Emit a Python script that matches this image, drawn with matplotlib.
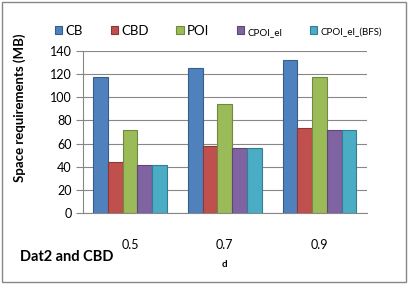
import matplotlib.pyplot as plt
import numpy as np
from matplotlib.patches import Rectangle

plt.rcParams['font.family'] = ['Lato', 'DejaVu Sans']

Categories = ['0.5', '0.7', '0.9']
SeriesNames = ['CB', 'CBD', 'POI', 'CPOI_el', 'CPOI_el_(BFS)']
CB = [118, 125, 132]
CBD = [44, 58, 73.5]
POI = [72, 94, 117.5]
CPOI_el = [41.6, 56, 72]
CPOI_el_BFS = [41.6, 56, 72]

Colors = ['#4F81BD', '#C0504D', '#9BBB59', '#8064A2', '#4BACC6']
Edges = ['#385D8A', '#8C3836', '#71893F', '#5C4776', '#357D91']

Figure = plt.figure(figsize=(4.09, 2.84), dpi=100)
Ax = Figure.add_axes([0.202, 0.25, 0.695, 0.57])

#Bars, five per group
Series = [CB, CBD, POI, CPOI_el, CPOI_el_BFS]
x = np.arange(len(Categories))
Width = 0.156
for i, Values in enumerate(Series):
    Ax.bar(x + (i - 2) * Width, Values, Width, color=Colors[i], edgecolor=Edges[i],
           linewidth=0.8, label=SeriesNames[i], zorder=3)

Ax.set_xlim(-0.5, 2.5)
Ax.set_ylim(0, 140)
Ax.set_yticks(range(0, 141, 20))
Ax.set_xticks(x)
Ax.set_xticklabels(Categories)
Ax.yaxis.grid(True, color='#878787', linewidth=0.8, zorder=0)
for s in ['top', 'right']:
    Ax.spines[s].set_visible(False)
for s in ['left', 'bottom']:
    Ax.spines[s].set_color('#878787')
Ax.tick_params(axis='y', length=5, color='#878787', labelsize=9, pad=3)
Ax.tick_params(axis='x', length=0, labelsize=9, pad=19)

#y label sits a bit above the middle of the axis, like the original
Ax.set_ylabel('Space requirements (MB)', fontsize=9.5, fontweight='bold')
Ax.yaxis.set_label_coords((26.5 - 82.7) / 284.3, (213 - 108) / 162)
Ax.set_xlabel('d', fontsize=7, fontweight='bold', labelpad=6)

#Legend on one row above the plot, last two names in a smaller font
Leg = Ax.legend(loc='center left', bbox_to_anchor=(55 / 409, 1 - 31 / 284),
                bbox_transform=Figure.transFigure, ncol=5, frameon=False,
                fontsize=9.5, handlelength=0.55, handleheight=0.55, handletextpad=0.25,
                columnspacing=2.1, borderaxespad=0, borderpad=0)
for t in Leg.get_texts()[3:]:
    t.set_fontsize(7)

Figure.text(0.049, 0.081, 'Dat2 and CBD', fontsize=10.5, fontweight='bold')
Figure.patches.append(Rectangle((0.005, 0.007), 0.988, 0.986, transform=Figure.transFigure,
                                fill=False, edgecolor='#878787', linewidth=1))

Figure.savefig('out.png', dpi=100)
